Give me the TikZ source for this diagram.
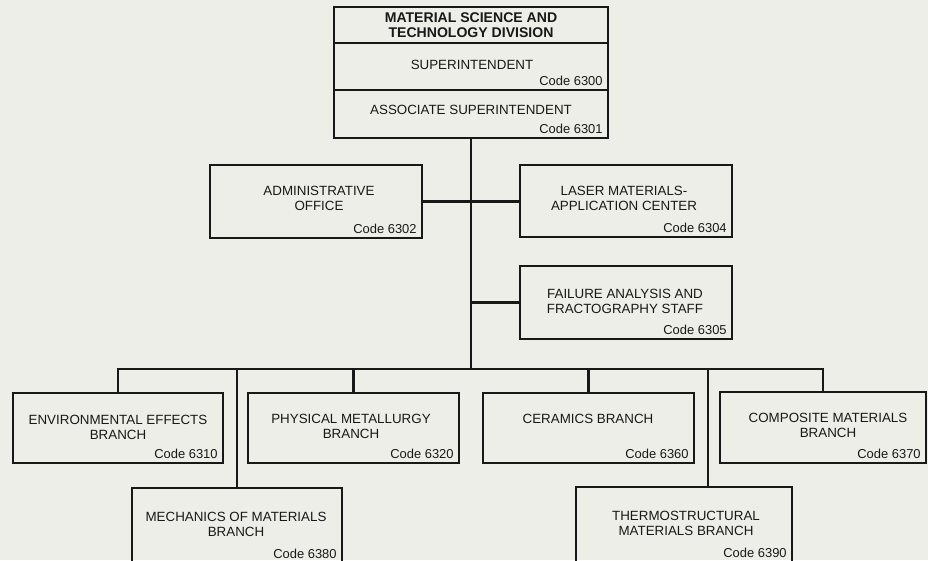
\documentclass[tikz,border=0pt]{standalone}
\usepackage{fontspec}
\setmainfont{Liberation Sans}
\usetikzlibrary{fit}
\definecolor{paper}{RGB}{238,238,233}
\definecolor{ink}{RGB}{24,24,24}
\newcommand{\unitfont}{\fontsize{9.5}{10.7}\selectfont}
\tikzset{
  unit/.style={draw=ink, line width=1.4pt, inner sep=0pt},
  conn/.style={draw=ink, line width=1.9pt},
  lbl/.style={text=ink, align=center, font=\unitfont, inner sep=0pt},
  codelbl/.style={text=ink, font=\fontsize{9.2}{10}\selectfont, inner sep=0pt, anchor=base east, xshift=-4.3pt, yshift=3.6pt}
}
\begin{document}
\begin{tikzpicture}[x=0.025cm, y=-0.025cm]
\clip (0,0) rectangle (928,560);
\fill[paper] (0,0) rectangle (928,560);
% frames, given by their corners
\foreach \n/\a/\b/\c/\d in {div/334/7/608/43, sup/334/43/608/90, assoc/334/90/608/138,
    admin/210/165/422/238, laser/520/165/732/237, fail/520/266/732/339,
    env/13/393/223/463, phys/248/393/459/463, cer/483/393/694/463, comp/720/392/926/463,
    mech/132/488/342/568, thermo/576/487/792/568}
  \node[unit, fit={(\a,\b) (\c,\d)}] (\n) {};
\node[lbl, font=\fontsize{10}{10.7}\selectfont\bfseries] (divtxt) at (471,25.5) {MATERIAL SCIENCE AND\\TECHNOLOGY DIVISION};
\node[lbl] (suptxt) at (472,65) {SUPERINTENDENT};
\node[lbl] (assoctxt) at (471,110) {ASSOCIATE SUPERINTENDENT};
\node[lbl] (admintxt) at (319,198) {ADMINISTRATIVE\\OFFICE};
\node[lbl] (lasertxt) at (624,198) {LASER MATERIALS-\\APPLICATION CENTER};
\node[lbl] (failtxt) at (625,301) {FAILURE ANALYSIS AND\\FRACTOGRAPHY STAFF};
\node[lbl] (envtxt) at (118,427.5) {ENVIRONMENTAL EFFECTS\\BRANCH};
\node[lbl] (phystxt) at (351,426.5) {PHYSICAL METALLURGY\\BRANCH};
\node[lbl] (certxt) at (588,419) {CERAMICS BRANCH};
\node[lbl] (comptxt) at (828,425) {COMPOSITE MATERIALS\\BRANCH};
\node[lbl] (mechtxt) at (236,524) {MECHANICS OF MATERIALS\\BRANCH};
\node[lbl] (thermotxt) at (686,523) {THERMOSTRUCTURAL\\MATERIALS BRANCH};
\foreach \n/\c in {sup/6300, assoc/6301, admin/6302, laser/6304, fail/6305, env/6310,
    phys/6320, cer/6360, comp/6370}
  \node[codelbl] (\n-code) at (\n.south east) {Code \c};
\node[codelbl, yshift=3.9pt] (mech-code) at (mech.south east) {Code 6380};
\node[codelbl, yshift=4.3pt] (thermo-code) at (thermo.south east) {Code 6390};
% lines of authority
\coordinate (bus) at (assoc.south |- 0,369);
\coordinate (mechtap) at (237,369);
\coordinate (thermotap) at (708,369);
\draw[conn] (assoc.south) -- (bus);
\draw[conn] (admin.east) -- (admin.east -| laser.west);
\draw[conn] (fail.west) -- (fail.west -| bus);
\draw[conn] (env.north) -- (env.north |- bus) -- (comp.north |- bus) -- (comp.north);
\foreach \n in {phys,cer} \draw[conn] (\n.north) -- (\n.north |- bus);
\draw[conn] (mechtap) -- (mechtap |- mech.north);
\draw[conn] (thermotap) -- (thermotap |- thermo.north);
\end{tikzpicture}
\end{document}
